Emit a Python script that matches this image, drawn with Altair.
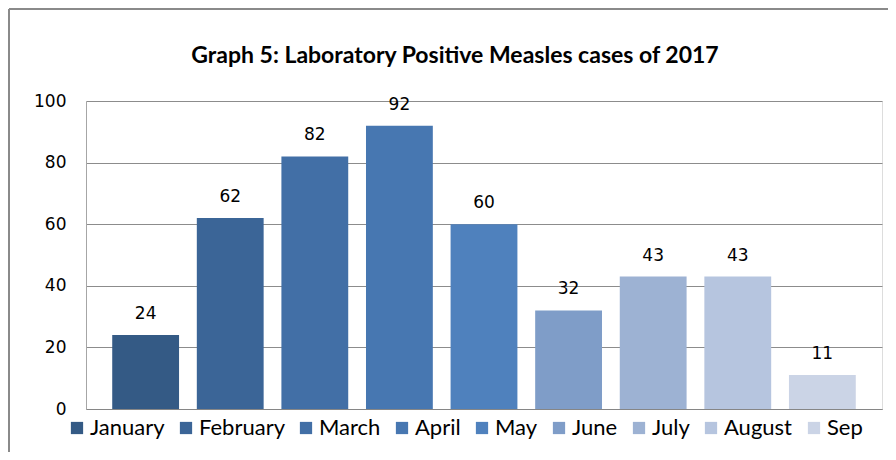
import altair as alt
import pandas as pd

months = ["January", "February", "March", "April", "May", "June", "July", "August", "Sep"]
cases = [24, 62, 82, 92, 60, 32, 43, 43, 11]
colors = ["#345a85", "#3b6597", "#426fa6", "#4777b1", "#4f81bd", "#7f9dc8", "#9db2d3", "#b6c5df", "#cbd4e6"]
title_text = "Graph 5: Laboratory  Positive Measles cases of 2017"

df = pd.DataFrame({"month": months, "cases": cases})

W, H = 796, 308

x = alt.X("month:N", sort=months, scale=alt.Scale(paddingInner=0.21, paddingOuter=0.31),
          axis=alt.Axis(labels=False, ticks=False, title=None, domainColor="#868686", grid=False))
y = alt.Y("cases:Q", scale=alt.Scale(domain=[0, 100]),
          axis=alt.Axis(values=[0, 20, 40, 60, 80, 100], title=None, ticks=False, domain=True,
                        domainColor="#a6a6a6", gridColor="#8c8c8c", labelFont="DejaVu Sans",
                        labelFontSize=17, labelColor="#000000", labelPadding=20))

bars = alt.Chart(df).mark_bar().encode(
    x=x, y=y,
    color=alt.Color("month:N", sort=months, scale=alt.Scale(domain=months, range=colors),
                    legend=alt.Legend(orient="none", direction="horizontal", legendX=-20, legendY=316,
                                      title=None, symbolType="square", symbolSize=150,
                                      symbolStrokeWidth=0, labelFont="Lato",
                                      labelFontSize=22, labelColor="#000000", columnPadding=10,
                                      labelOffset=2, columns=9)),
)

labels = alt.Chart(df).mark_text(baseline="bottom", dy=-12, font="DejaVu Sans", fontSize=17,
                                 color="#000000").encode(
    x=alt.X("month:N", sort=months), y="cases:Q", text="cases:Q")

title = alt.Chart(pd.DataFrame({"t": [title_text]})).mark_text(
    font="Lato", fontSize=23, fontWeight="bold", color="#000000", align="center", baseline="middle"
).encode(x=alt.value(369), y=alt.value(-45), text="t:N")

border = alt.Chart(pd.DataFrame({"a": [0]})).mark_rule(color="#8a8a8a", strokeWidth=2).encode(
    x=alt.value(-77), x2=alt.value(-77), y=alt.value(-92), y2=alt.value(360))
border_top = alt.Chart(pd.DataFrame({"a": [0]})).mark_rule(color="#8a8a8a", strokeWidth=2).encode(
    x=alt.value(-77), x2=alt.value(900), y=alt.value(-92))

chart = alt.layer(bars, labels, title, border, border_top).properties(
    width=W, height=H,
    autosize=alt.AutoSizeParams(type="none"),
    padding={"left": 78, "top": 93, "right": 6, "bottom": 43},
).configure_view(stroke=None).configure(background="white")

chart.save("out.html", embed_options={"renderer": "svg", "actions": False})
